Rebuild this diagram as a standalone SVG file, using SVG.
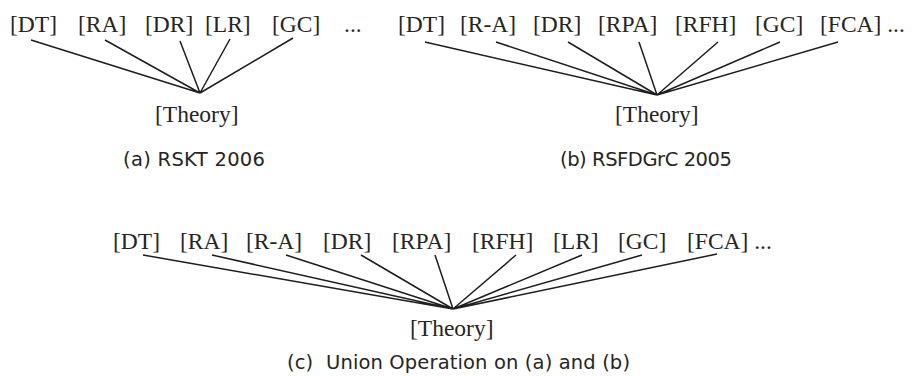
<svg xmlns="http://www.w3.org/2000/svg" width="923" height="376" viewBox="0 0 923 376">
<style>
.t{font-family:"Liberation Serif","Times New Roman",serif;font-size:23.5px;fill:#252525}
.c{font-family:"DejaVu Sans",Verdana,sans-serif;font-size:19.5px;fill:#252525}
.l{stroke:#1e1e1e;stroke-width:1.5;fill:none}
</style>
<rect width="923" height="376" fill="#fff"/>
<g id="panel-a">
<g id="a-DT"><text class="t" x="10" y="32">[DT]</text></g>
<g id="a-RA"><text class="t" x="78" y="32">[RA]</text></g>
<g id="a-DR"><text class="t" x="145" y="32">[DR]</text></g>
<g id="a-LR"><text class="t" x="205" y="32">[LR]</text></g>
<g id="a-GC"><text class="t" x="272" y="32">[GC]</text></g>
<g id="a-more"><text class="t" x="344" y="32">...</text></g>
<g id="a-Theory"><text class="t" x="155" y="122">[Theory]</text></g>
<g id="a-caption"><text class="c" x="123" y="166" textLength="142">(a) RSKT 2006</text></g>
</g>
<g id="panel-b">
<g id="b-DT"><text class="t" x="398" y="32">[DT]</text></g>
<g id="b-R-A"><text class="t" x="460" y="32">[R-A]</text></g>
<g id="b-DR"><text class="t" x="533" y="32">[DR]</text></g>
<g id="b-RPA"><text class="t" x="598" y="32">[RPA]</text></g>
<g id="b-RFH"><text class="t" x="675" y="32">[RFH]</text></g>
<g id="b-GC"><text class="t" x="755" y="32">[GC]</text></g>
<g id="b-FCA"><text class="t" x="820" y="32">[FCA] ...</text></g>
<g id="b-Theory"><text class="t" x="615" y="122">[Theory]</text></g>
<g id="b-caption"><text class="c" x="560" y="166" textLength="172">(b) RSFDGrC 2005</text></g>
</g>
<g id="panel-c">
<g id="c-DT"><text class="t" x="113" y="249">[DT]</text></g>
<g id="c-RA"><text class="t" x="180" y="249">[RA]</text></g>
<g id="c-R-A"><text class="t" x="246" y="249">[R-A]</text></g>
<g id="c-DR"><text class="t" x="323" y="249">[DR]</text></g>
<g id="c-RPA"><text class="t" x="392" y="249">[RPA]</text></g>
<g id="c-RFH"><text class="t" x="472" y="249">[RFH]</text></g>
<g id="c-LR"><text class="t" x="553" y="249">[LR]</text></g>
<g id="c-GC"><text class="t" x="618" y="249">[GC]</text></g>
<g id="c-FCA"><text class="t" x="687" y="249">[FCA] ...</text></g>
<g id="c-Theory"><text class="t" x="410" y="336">[Theory]</text></g>
<g id="c-caption"><text class="c" x="287" y="369" textLength="343" xml:space="preserve">(c)  Union Operation on (a) and (b)</text></g>
</g>
<g id="connectors">
<path class="l" d="M31 40L200 93M105 40L200 93M180 41L200 93M230 39L200 93M293 38L200 93"/>
<path class="l" d="M425 42L657 95M496 42L657 95M568 42L657 95M639 42L657 95M718 42L657 95M780 42L657 95M838 42L657 95"/>
<path class="l" d="M143 255L453 309M212 255L453 309M286 255L453 309M361 255L453 309M435 255L453 309M516 255L453 309M582 255L453 309M642 255L453 309M717 254L453 309"/>
</g>
</svg>
